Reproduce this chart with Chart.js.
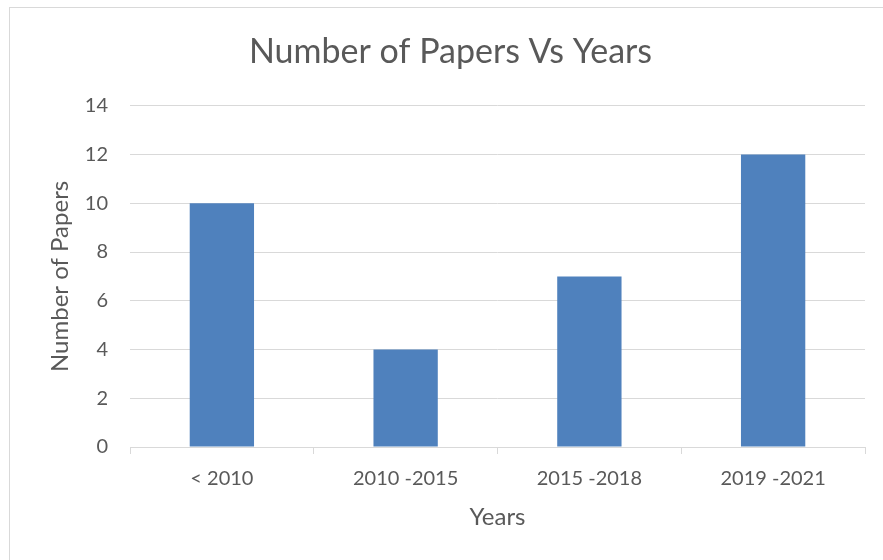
<!DOCTYPE html>
<html>
<head>
<meta charset="utf-8">
<script src="https://cdn.jsdelivr.net/npm/chart.js@4/dist/chart.umd.min.js"></script>
<style>
  html, body { margin: 0; padding: 0; background: #fff; }
  #papersChart { display: block; }
</style>
</head>
<body>
<canvas id="papersChart" width="883" height="560"></canvas>
<script>
var categories = ["< 2010", "2010 -2015", "2015 -2018", "2019 -2021"];
var paperCounts = [10, 4, 7, 12];
var yTicks = [0, 2, 4, 6, 8, 10, 12, 14];

var textGrey = '#595959';
var lineGrey = '#d9d9d9';
var fontName = 'Lato, "Open Sans", sans-serif';

// light frame round the chart, like the office chart area
var frame = {
  id: 'frame',
  beforeDraw: function (chart) {
    var c = chart.ctx;
    c.save();
    c.fillStyle = '#fff';
    c.fillRect(0, 0, chart.width, chart.height);
    c.strokeStyle = lineGrey;
    c.lineWidth = 1;
    c.strokeRect(9.5, 7.5, 1000, 1000);
    c.restore();
  }
};

var ctx = document.getElementById('papersChart').getContext('2d');
var papersChart = new Chart(ctx, {
  type: 'bar',
  data: {
    labels: categories,
    datasets: [{
      label: 'Number of Papers',
      data: paperCounts,
      backgroundColor: '#4f81bd',
      borderWidth: 0,
      barPercentage: 0.35,
      categoryPercentage: 1
    }]
  },
  plugins: [frame],
  options: {
    responsive: false,
    animation: false,
    layout: {
      padding: { left: 36, right: 18, top: 0, bottom: 0 }
    },
    plugins: {
      legend: { display: false },
      tooltip: { enabled: false },
      title: {
        display: true,
        text: 'Number of Papers Vs Years',
        color: textGrey,
        font: { family: fontName, size: 34, weight: 'normal' },
        padding: { top: 32, bottom: 33 }
      }
    },
    scales: {
      x: {
        afterFit: function (scale) { scale.height = 113; },
        grid: {
          offset: true,
          drawOnChartArea: false,
          drawTicks: true,
          tickLength: 7,
          color: lineGrey
        },
        border: { display: true, color: lineGrey },
        ticks: {
          color: textGrey,
          padding: 13,
          font: { family: fontName, size: 20 }
        },
        title: {
          display: true,
          text: 'Years',
          color: textGrey,
          font: { family: fontName, size: 24 },
          padding: { top: 0, bottom: 28 }
        }
      },
      y: {
        min: 0,
        max: 14,
        afterFit: function (scale) { scale.width = 94; },
        afterBuildTicks: function (scale) {
          scale.ticks = yTicks.map(function (v) { return { value: v }; });
        },
        grid: {
          color: lineGrey,
          drawTicks: false
        },
        border: { display: false },
        ticks: {
          color: textGrey,
          padding: 22,
          font: { family: fontName, size: 20 }
        },
        title: {
          display: true,
          text: 'Number of Papers',
          color: textGrey,
          font: { family: fontName, size: 24 },
          padding: { top: 10, bottom: 0 }
        }
      }
    }
  }
});
</script>
</body>
</html>
